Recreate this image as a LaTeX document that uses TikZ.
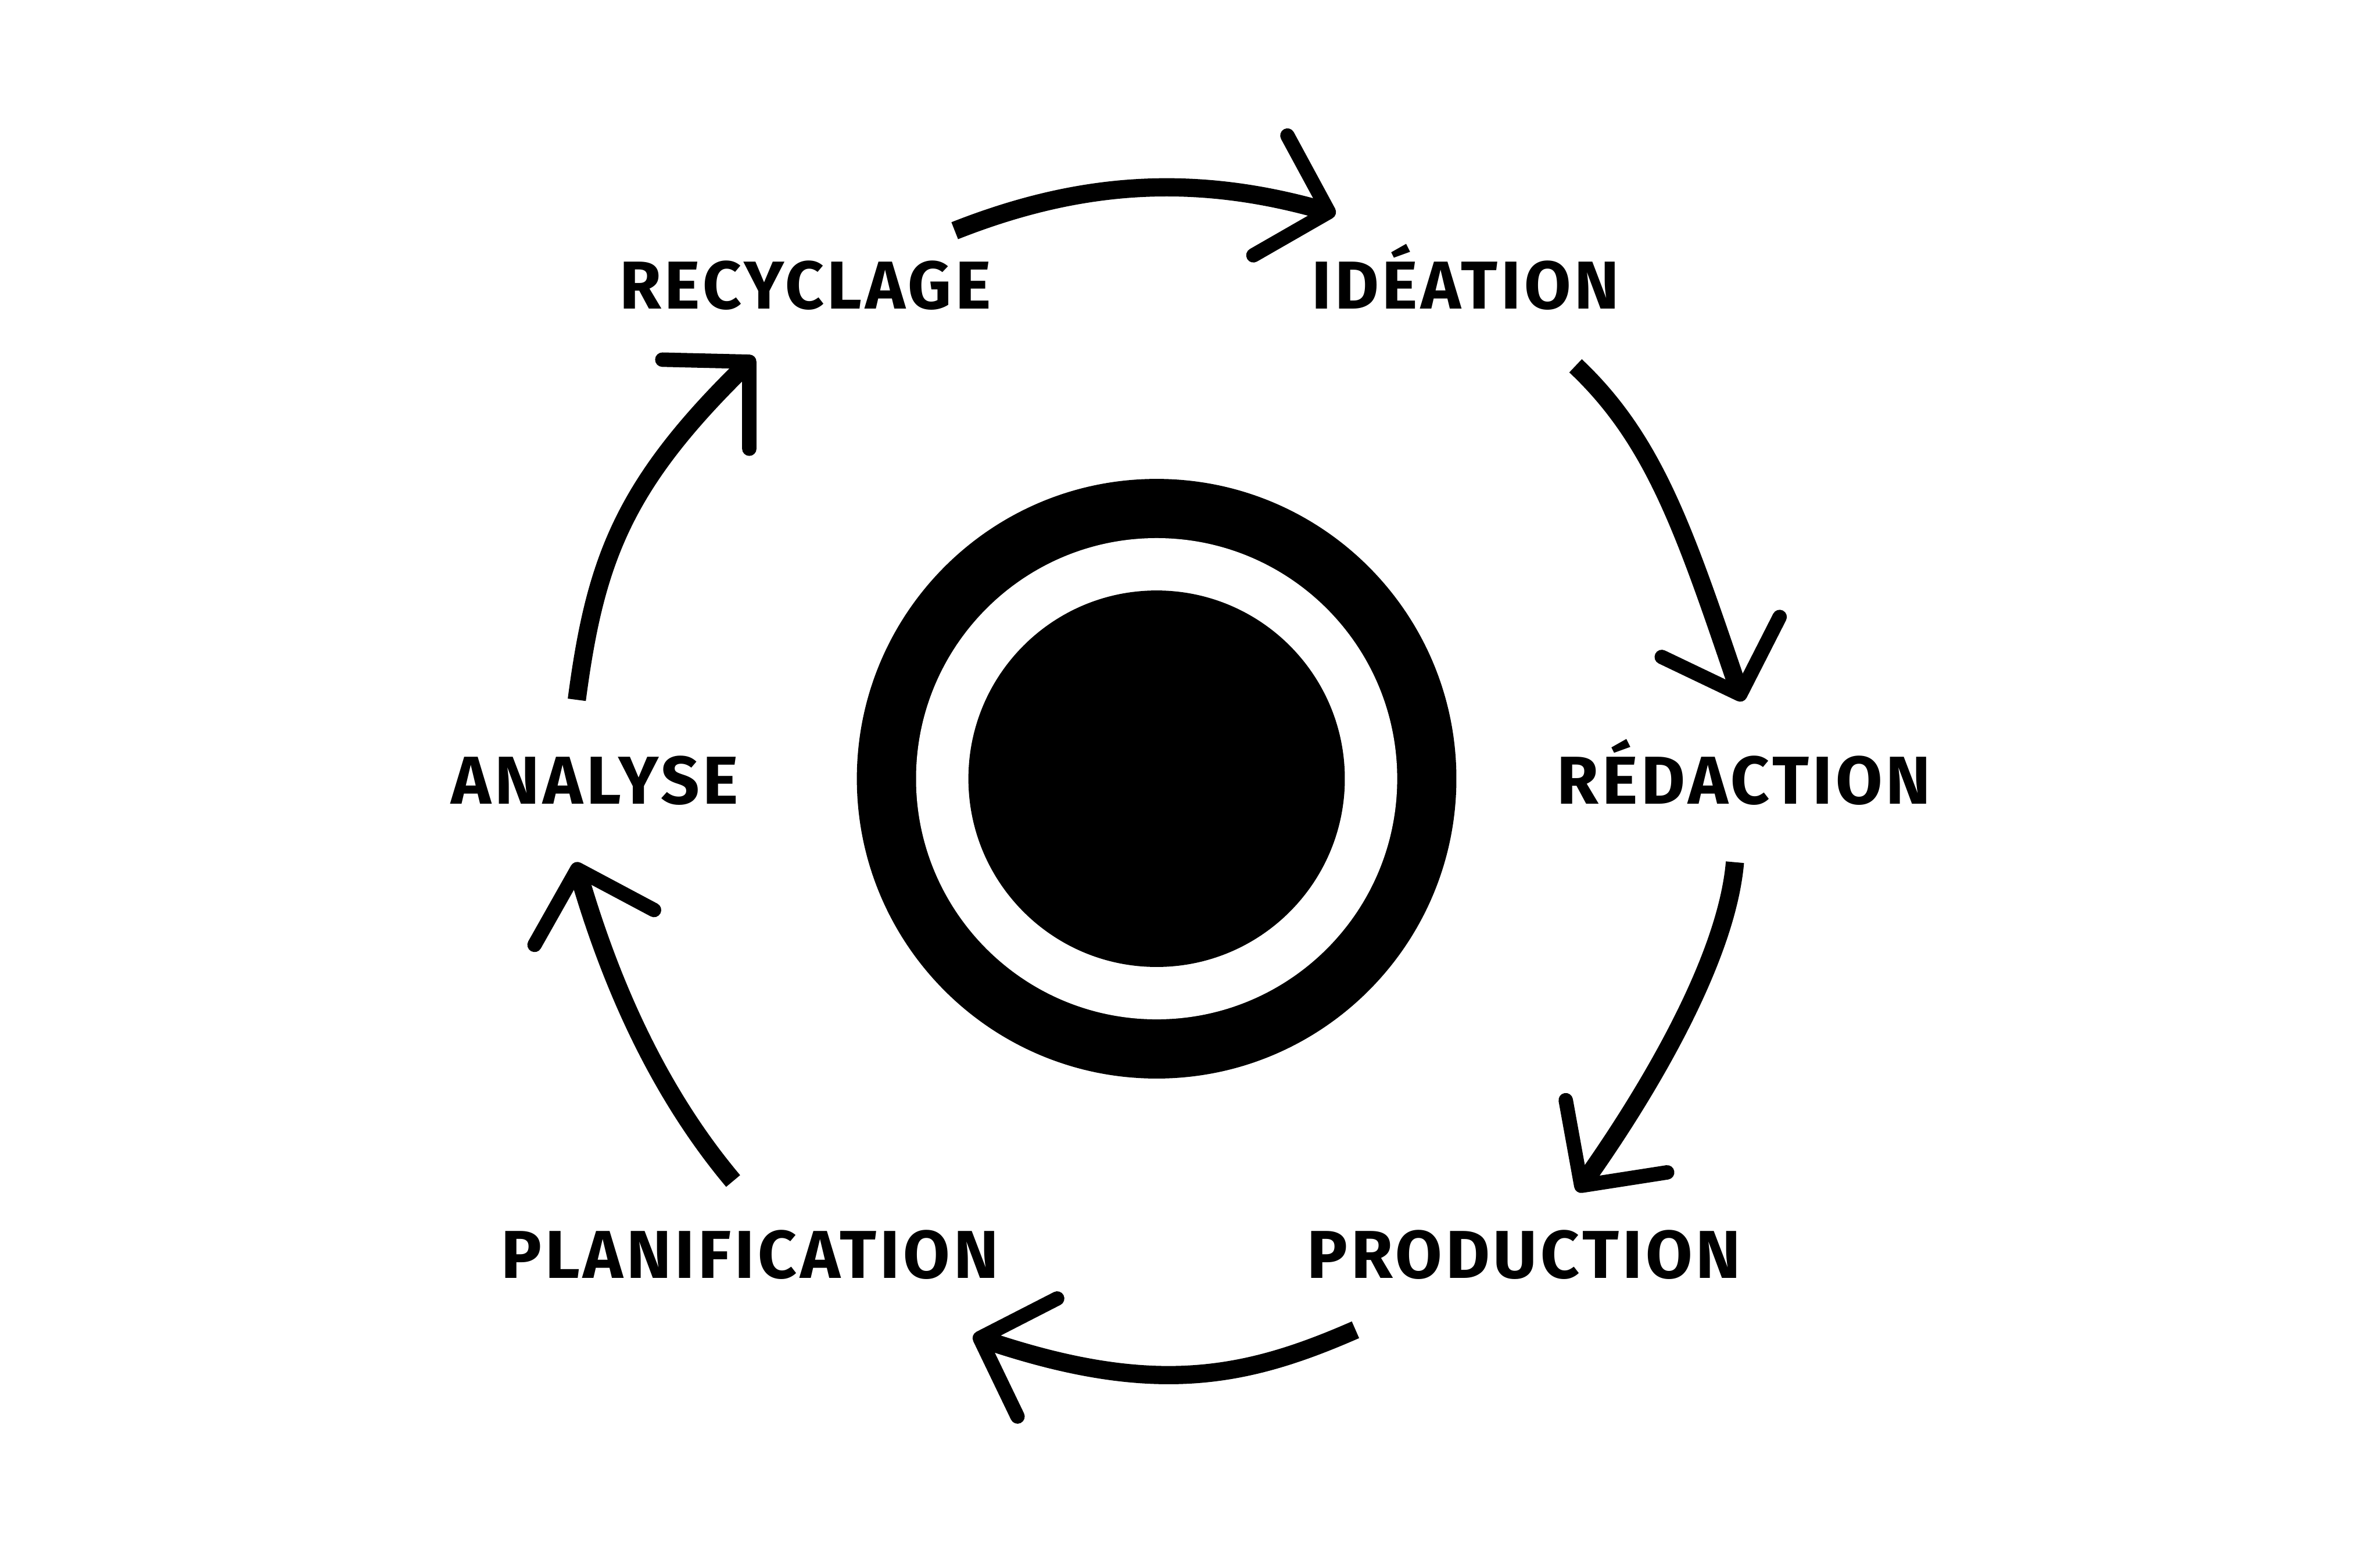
\documentclass[tikz,border=0pt]{standalone}
\usepackage{fontspec}
\newfontfamily\stagefont{Fira Sans}[LetterSpace=5]
\usetikzlibrary{arrows.meta}

\begin{document}
\begin{tikzpicture}[
    stage/.style={font=\stagefont\bfseries\fontsize{12.7}{14}\selectfont, inner sep=0pt, anchor=base},
    flow/.style={line width=0.12cm, -{Straight Barb[length=0.40cm, width=0.82cm, line width=0.095cm, round]}}
]
\useasboundingbox (0,0) rectangle (15.68,10.26);

% centre target
\fill[black] (7.62,5.13) circle (1.975);
\fill[white] (7.62,5.13) circle (1.585);
\fill[black] (7.62,5.13) circle (1.24);

% stages
\node[stage] (recyclage) at (5.305,8.225) {RECYCLAGE};
\node[stage] (ideation) at (9.655,8.225) {IDÉATION};
\node[stage] (redaction) at (11.49,4.965) {RÉDACTION};
\node[stage] (production) at (10.04,1.84) {PRODUCTION};
\node[stage] (planification) at (4.94,1.84) {PLANIFICATION};
\node[stage] (analyse) at (3.92,4.965) {ANALYSE};

% arrow ends
\coordinate (s1) at (6.29,8.74);  \coordinate (t1) at (8.80,8.85);
\coordinate (s2) at (10.38,7.85); \coordinate (t2) at (11.48,5.64);
\coordinate (s3) at (11.43,4.58); \coordinate (t3) at (10.39,2.41);
\coordinate (s4) at (8.93,1.50);  \coordinate (t4) at (6.41,1.46);
\coordinate (s5) at (4.83,2.48);  \coordinate (t5) at (3.79,4.58);
\coordinate (s6) at (3.80,5.65);  \coordinate (t6) at (4.97,7.91);

\draw[flow] (s1) .. controls (7.10,9.06) and (7.85,9.12) .. (t1);
\draw[flow] (s2) .. controls (10.90,7.36) and (11.10,6.76) .. (t2);
\draw[flow] (s3) .. controls (11.37,3.88) and (10.76,2.93) .. (t3);
\draw[flow] (s4) .. controls (8.20,1.18) and (7.60,1.06) .. (t4);
\draw[flow] (s5) .. controls (4.30,3.11) and (4.00,3.86) .. (t5);
\draw[flow] (s6) .. controls (3.92,6.56) and (4.10,7.06) .. (t6);

\end{tikzpicture}
\end{document}
